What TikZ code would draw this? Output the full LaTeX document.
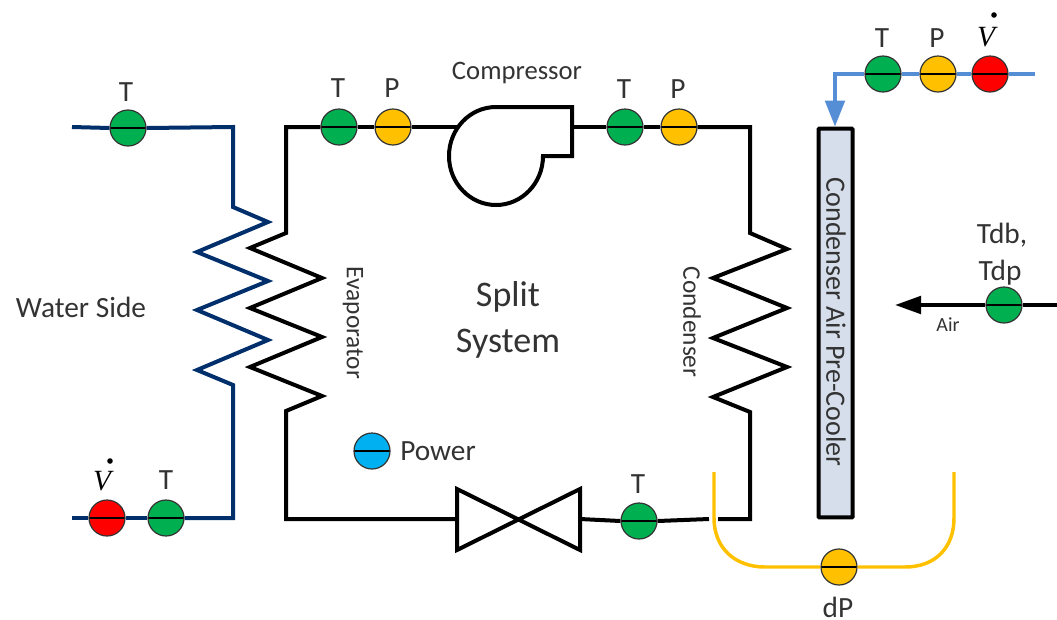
\documentclass[tikz,border=0pt]{standalone}
\usepackage{fontspec}
\setmainfont{Carlito}
\newfontfamily\capsfont[Letters=SmallCaps]{Carlito}
\newfontfamily\vfont{Liberation Serif}
\usetikzlibrary{arrows.meta}
\definecolor{gr}{HTML}{00B050}
\definecolor{yl}{HTML}{FFC000}
\definecolor{rd}{HTML}{FF0000}
\definecolor{bl}{HTML}{00B0F0}
\definecolor{navy}{HTML}{002F6C}
\definecolor{steel}{HTML}{558ED5}
\definecolor{ink}{HTML}{333333}
\definecolor{cooler}{HTML}{D5DEEA}
\tikzset{
  disc/.style={circle,draw=ink,line width=0.9pt,minimum size=27pt,inner sep=0pt,fill=#1,
    path picture={\draw[black,line width=1pt] (path picture bounding box.west)--(path picture bounding box.east);}},
  pipe/.style={line width=3pt,black,line join=miter},
  water/.style={line width=3pt,navy,line join=miter},
  feed/.style={line width=3pt,steel,line join=miter},
  sense/.style={line width=2.6pt,yl},
  lab/.style={text=ink,inner sep=0pt,font=\fontsize{22}{24}\selectfont},
  sclab/.style={text=ink,inner sep=0pt,font=\capsfont\fontsize{#1}{#1}\selectfont},
  vlab/.style={text=black,inner sep=0pt,font=\vfont\itshape\fontsize{22}{24}\selectfont},
  vdot/.style={circle,fill=black,inner sep=0pt,minimum size=4.2pt},
}
\begin{document}
\begin{tikzpicture}[x=0.75pt,y=-0.75pt]
\useasboundingbox (0,0) rectangle (1057,619);
% instruments
\node[disc=gr] (wT1) at (128,128) {};
\node[disc=rd] (wV) at (107,518) {};
\node[disc=gr] (wT2) at (166,518) {};
\node[disc=gr] (eT) at (339,127) {};
\node[disc=yl] (eP) at (393,127) {};
\node[disc=gr] (cT) at (625,127) {};
\node[disc=yl] (cP) at (679,127) {};
\node[disc=gr] (lT) at (639,521) {};
\node[disc=bl] (pw) at (372,451) {};
\node[disc=gr] (pT) at (883,74) {};
\node[disc=yl] (pP) at (938,74) {};
\node[disc=rd] (pV) at (990,74) {};
\node[disc=gr] (aT) at (1004,305) {};
\node[disc=yl] (dP) at (839,567) {};
% free ends and junctions
\coordinate (wIn) at (72,127);
\coordinate (wOut) at (72,518);
\coordinate (pEnd) at (1035,74);
\coordinate (aEnd) at (1057,305);
\coordinate (aTip) at (895,305);
\coordinate (cmpIn) at (458,127);
\coordinate (cmpOut) at (572,127);
\coordinate (vIn) at (457,519);
\coordinate (vOut) at (580,519);
% pre-cooler
\node[draw=black,line width=3pt,fill=cooler,minimum width=25.5pt,minimum height=291.5pt,inner sep=0pt,rounded corners=0.5pt] (cool) at (835.5,323) {};
% water side
\draw[water] (wIn) -- (wT1.west);
\draw[water] (wT1.east) -- (233,127) -- (233,207) -- (268,222) -- (197,252) -- (268,281) -- (197,310) -- (268,340) -- (197,370) -- (233,385) -- (233,518) -- (wT2.east);
\draw[water] (wT2.west) -- (wV.east);
\draw[water] (wV.west) -- (wOut);
% refrigerant loop
\draw[pipe] (eT.east) -- (eP.west);
\draw[pipe] (eP.east) -- (cmpIn);
\draw[pipe] (eT.west) -- (286,127) -- (286,233) -- (250,248) -- (322,278) -- (250,308) -- (322,337) -- (250,367) -- (322,396) -- (286,411) -- (286,519) -- (vIn);
\draw[pipe,fill=white,line join=miter] (vIn) -- (457,489) -- (580,550) -- (580,489) -- (457,550) -- cycle;
\draw[pipe,fill=white] (543,156) arc[start angle=0,end angle=270,x radius=47,y radius=49] -- (572,107) -- (572,156) -- cycle;
\draw[pipe] (cmpOut) -- (cT.west);
\draw[pipe] (cT.east) -- (cP.west);
\draw[pipe] (cP.east) -- (750,127) -- (750,233) -- (787,249) -- (713,278) -- (787,308) -- (713,338) -- (787,367) -- (713,397) -- (750,412) -- (750,519) -- (718,519);
\draw[pipe] (709,519) -- (lT.east);
\draw[pipe] (lT.west) -- (vOut);
% pre-cooler feed and air
\draw[feed] (pEnd) -- (pV.east);
\draw[feed] (pV.west) -- (pP.east);
\draw[feed] (pP.west) -- (pT.east);
\draw[feed,-{Triangle[length=19.5pt,width=14.5pt]}] (pT.west) -- (835,74) -- (cool.north -| 835,0);
\draw[pipe,-{Triangle[length=19.5pt,width=13pt]}] (aT.west) -- (aTip);
\draw[pipe] (aEnd) -- (aT.east);
% differential pressure line
\draw[sense] (714,472) -- (714,518) to[out=90,in=180,looseness=0] (714,518) .. controls (714,548) and (735,567) .. (765,567) -- (dP.west);
\draw[sense] (dP.east) -- (905,567) .. controls (935,567) and (954,548) .. (954,518) -- (954,472);
% labels
\node[lab] (l1) at (126,92) {T};
\node[lab] (l2) at (338,88) {T};
\node[lab] (l3) at (392,88) {P};
\node[lab] (l4) at (624,89) {T};
\node[lab] (l5) at (678,89) {P};
\node[lab] (l6) at (882,38) {T};
\node[lab] (l7) at (937,38) {P};
\node[lab] (l8) at (166,480) {T};
\node[lab] (l9) at (638,484) {T};
\node[lab] (l10) at (838,607) {dP};
\node[lab] (l11) at (1002,235) {Tdb,};
\node[lab] (l12) at (1000,273) {Tdp};
\node[vlab] (v1) at (986,37) {V};
\node[vdot] (d1) at (994,15) {};
\node[vlab] (v2) at (102,481) {V};
\node[vdot] (d2) at (110,461) {};
\node[sclab=20] (s1) at (517,73) {Compressor};
\node[sclab=22] (s2) at (81,307) {Water Side};
\node[sclab=22] (s3) at (438,451) {Power};
\node[sclab=15] (s4) at (948,325) {Air};
\node[sclab=27] (s5) at (508,297) {Split};
\node[sclab=27] (s6) at (508,344) {System};
\node[sclab=19,rotate=-90] (s7) at (353,323) {Evaporator};
\node[sclab=19,rotate=-90] (s8) at (692,322) {Condenser};
\node[sclab=21,rotate=-90] (s9) at (836,322) {Condenser Air Pre-Cooler};
\end{tikzpicture}
\end{document}
